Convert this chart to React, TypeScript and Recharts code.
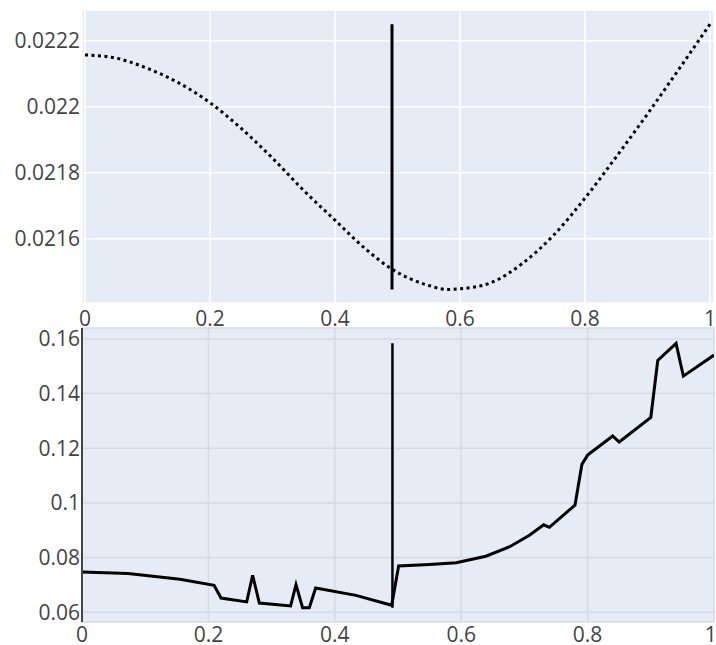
import React from "react";
import { LineChart, Line, XAxis, YAxis, CartesianGrid } from "recharts";

// upper panel: smooth dotted curve
const upperX = [0, 0.05, 0.1, 0.15, 0.2, 0.25, 0.3, 0.35, 0.4, 0.45, 0.49, 0.55, 0.58, 0.6, 0.65, 0.7, 0.75, 0.8, 0.85, 0.9, 0.95, 1.0];
const upperY = [
  0.022157, 0.022147, 0.022116, 0.022072, 0.022012, 0.021934, 0.021844, 0.021746, 0.021656, 0.021567,
  0.021509, 0.021458, 0.021446, 0.021448, 0.021467, 0.021525, 0.021611, 0.021723, 0.021848, 0.021978,
  0.022113, 0.02225,
];

// lower panel: jagged solid curve
const lowerX = [
  0, 0.073, 0.155, 0.209, 0.22, 0.2606, 0.27, 0.2806, 0.33, 0.3386, 0.349, 0.3597, 0.3697, 0.4335, 0.49,
  0.501, 0.55, 0.592, 0.639, 0.676, 0.708, 0.7305, 0.7395, 0.78, 0.791, 0.8, 0.8397, 0.85, 0.9, 0.911,
  0.94, 0.9515, 1.0,
];
const lowerY = [
  0.07476, 0.07418, 0.0721, 0.0699, 0.0652, 0.0638, 0.07355, 0.0634, 0.0623, 0.0701, 0.0617, 0.0617,
  0.0689, 0.0662, 0.06256, 0.07696, 0.0775, 0.0781, 0.0805, 0.0839, 0.0882, 0.092, 0.0911, 0.0992,
  0.1141, 0.1175, 0.1245, 0.1223, 0.1313, 0.1521, 0.1584, 0.1464, 0.1541,
];

const markX = 0.4912;

const xTicks = [0, 0.2, 0.4, 0.6, 0.8, 1];
const upperTicks = [0.0216, 0.0218, 0.022, 0.0222];
const lowerTicks = [0.06, 0.08, 0.1, 0.12, 0.14, 0.16];

const upperData = upperX.map((x, i) => ({ x, y: upperY[i] }));
const lowerData = lowerX.map((x, i) => ({ x, y: lowerY[i] }));
const upperMark = [
  { x: markX, y: Math.min(...upperY) },
  { x: markX, y: Math.max(...upperY) },
];
const lowerMark = [
  { x: markX, y: Math.min(...lowerY) },
  { x: markX, y: Math.max(...lowerY) },
];

const tickStyle = { fill: "#444", fontSize: 21, fontFamily: "'Open Sans', sans-serif" };
const layer: React.CSSProperties = { position: "absolute", left: 0, top: 0 };

export default function App() {
  return (
    <div style={{ position: "absolute", left: 0, top: 0, width: 716, height: 645, background: "#fff" }}>
      <div style={layer}>
        <LineChart width={716} height={645} margin={{ top: 10, right: 2, bottom: 312, left: 0 }}>
          <CartesianGrid fill="#E5ECF6" stroke="#fff" strokeWidth={1.5} />
          <XAxis
            type="number"
            dataKey="x"
            domain={[-0.0048, 1.0064]}
            allowDataOverflow
            ticks={xTicks}
            height={30}
            tickSize={0}
            tickMargin={8}
            axisLine={false}
            tickLine={false}
            tick={tickStyle}
          />
          <YAxis
            type="number"
            dataKey="y"
            domain={[0.021405, 0.022293]}
            allowDataOverflow
            ticks={upperTicks}
            width={82}
            tickSize={0}
            tickMargin={2}
            axisLine={false}
            tickLine={false}
            tick={tickStyle}
          />
          <Line
            data={upperData}
            dataKey="y"
            type="monotone"
            stroke="#000"
            strokeWidth={3}
            strokeDasharray="3 3.5"
            dot={false}
            isAnimationActive={false}
          />
          <Line data={upperMark} dataKey="y" stroke="#000" strokeWidth={3} dot={false} isAnimationActive={false} />
        </LineChart>
      </div>
      <div style={layer}>
        <LineChart width={716} height={645} margin={{ top: 328, right: 2, bottom: 0, left: 0 }}>
          <CartesianGrid fill="#E5ECF6" stroke="#d5dbe4" strokeWidth={1.5} />
          <XAxis
            type="number"
            dataKey="x"
            domain={[0, 1]}
            allowDataOverflow
            ticks={xTicks}
            height={23}
            tickSize={0}
            tickMargin={5}
            axisLine={false}
            tickLine={false}
            tick={tickStyle}
          />
          <YAxis
            type="number"
            dataKey="y"
            domain={[0.05645, 0.164]}
            allowDataOverflow
            ticks={lowerTicks}
            width={82}
            tickSize={0}
            tickMargin={2}
            axisLine={{ stroke: "#444", strokeWidth: 2 }}
            tickLine={false}
            tick={tickStyle}
          />
          <Line
            data={lowerData}
            dataKey="y"
            type="linear"
            stroke="#000"
            strokeWidth={3}
            dot={false}
            isAnimationActive={false}
          />
          <Line data={lowerMark} dataKey="y" stroke="#000" strokeWidth={2.5} dot={false} isAnimationActive={false} />
        </LineChart>
      </div>
    </div>
  );
}
